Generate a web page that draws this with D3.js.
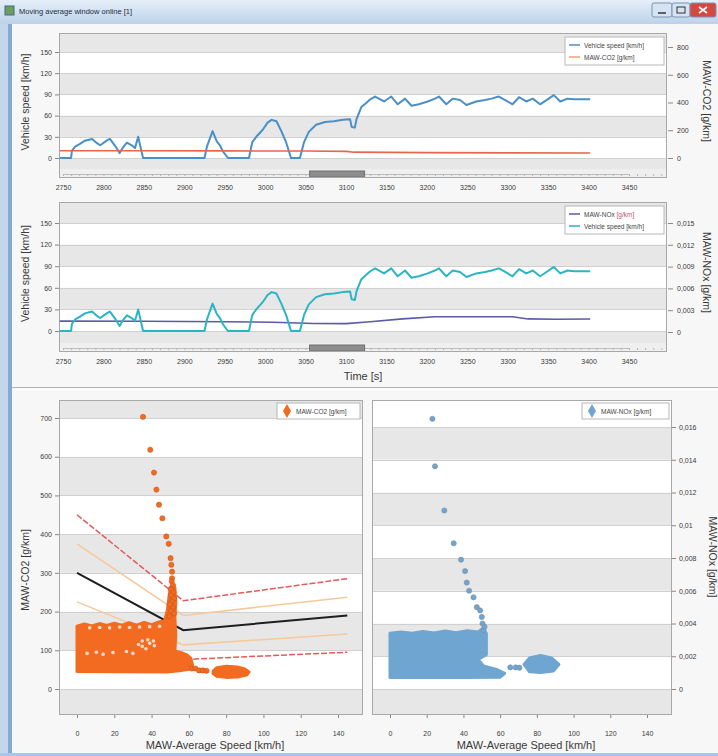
<!DOCTYPE html>
<html>
<head>
<meta charset="utf-8">
<script src="https://cdn.jsdelivr.net/npm/d3@7"></script>
<style>
  body { margin: 0; background: #fff; }
  svg { display: block; font-family: "Liberation Sans", Arial, sans-serif; }
</style>
</head>
<body>
<div id="chart"></div>
<script>
// ---- data ----
const timeTicks = [2750, 2800, 2850, 2900, 2950, 3000, 3050, 3100, 3150, 3200, 3250, 3300, 3350, 3400, 3450]
const speedTicks = [0, 30, 60, 90, 120, 150]
const co2TimeTicks = [0, 200, 400, 600, 800]
const noxTimeTicks = [0, 0.003, 0.006, 0.009, 0.012, 0.015]
const noxTimeLabels = ['0', '0,003', '0,006', '0,009', '0,012', '0,015']
const avgSpeedTicks = [0, 20, 40, 60, 80, 100, 120, 140]
const co2Ticks = [0, 100, 200, 300, 400, 500, 600, 700]
const noxTicks = [0, 0.002, 0.004, 0.006, 0.008, 0.01, 0.012, 0.014, 0.016]
const noxLabels = ['0', '0,002', '0,004', '0,006', '0,008', '0,01', '0,012', '0,014', '0,016']

// [time s, speed km/h]
const speedTrace = [
  [2746, 0], [2760, 0], [2761, 10], [2765, 16], [2771, 20], [2777, 24.5], [2786, 27], [2792, 21], [2796, 18],
  [2804, 24.5], [2808, 27], [2814, 18], [2820, 7], [2824, 14.6], [2829, 21.7], [2835, 18], [2839, 14],
  [2843, 30], [2845, 20], [2849, 0],
  [2925, 0], [2928, 16], [2935, 38], [2940, 24], [2944, 18], [2948, 9], [2954, 0],
  [2980, 0], [2984, 22], [2989, 30], [2997, 40], [3003, 50], [3008, 54], [3014, 52], [3020, 38], [3026, 22],
  [3032, 0], [3043, 0], [3048, 22], [3054, 37], [3063, 47], [3074, 51], [3085, 52], [3096, 54], [3105, 55],
  [3107, 44], [3111, 43], [3113, 55], [3119, 72], [3125, 78], [3130, 83],
  [3136, 87], [3147, 80], [3156, 87], [3164, 76], [3173, 84], [3181, 74], [3190, 76], [3201, 80], [3210, 84],
  [3215, 87], [3224, 76], [3232, 84], [3241, 82], [3249, 75], [3261, 80], [3272, 82], [3280, 84], [3289, 87],
  [3297, 82], [3306, 76], [3314, 86], [3323, 80], [3331, 84], [3340, 76], [3348, 82], [3357, 89], [3365, 80],
  [3374, 84], [3382, 83], [3391, 83], [3402, 83]
]
// [time s, MAW-CO2 g/km]
const co2Trace = [[2746, 52], [2850, 52], [2950, 51], [3050, 50], [3100, 48], [3110, 42], [3200, 39], [3300, 37], [3402, 36]]
// [time s, MAW-NOx g/km]
const noxTrace = [
  [2746, 0.0015], [2850, 0.00148], [2950, 0.00142], [3010, 0.00135], [3060, 0.00118], [3100, 0.00115],
  [3130, 0.0014], [3170, 0.0018], [3210, 0.0021], [3260, 0.0021], [3306, 0.0021], [3325, 0.0018],
  [3360, 0.00175], [3402, 0.00178]
]

// CO2 characteristic curve and tolerance lines [speed, g/km]
const co2Curve = [[0, 300], [57, 152], [145, 190]]
const co2Upper50 = [[0, 450], [57, 228], [145, 285]]
const co2Upper25 = [[0, 375], [57, 190], [145, 237]]
const co2Lower25 = [[0, 225], [57, 114], [145, 142]]
const co2Lower50 = [[0, 150], [57, 76], [145, 95]]

// dense point clouds as outlines [speed, value]
const co2Clouds = [
  [[0, 45], [0, 162], [4, 168], [8, 163], [12, 169], [16, 164], [20, 170], [24, 165], [28, 171], [32, 165],
   [36, 172], [40, 166], [44, 173], [47, 176], [48.5, 205], [49.5, 245], [50.5, 265], [52.5, 262], [53, 225],
   [52.5, 185], [53, 140], [52.5, 98], [56, 94], [59, 88], [61, 80], [62, 62], [60, 51], [55, 47], [48, 44]],
  [[73, 46], [75, 55], [80, 59], [86, 57], [90, 52], [92.3, 44], [91, 36], [86, 31], [80, 30], [75, 33], [73, 40]]
]
const co2Gaps = [
  [33, 115], [35, 124], [38, 127], [41, 124], [41.5, 112], [37, 104], [35, 110], [39, 118],
  [5.4, 92], [10.4, 95], [14, 90], [19.3, 94], [26.5, 97], [30, 92],
  [6.8, 158], [12.2, 159], [17.5, 158], [22.9, 160], [28.2, 159], [33.6, 160], [39, 161], [44.3, 162]
]
const co2Points = [
  [35.4, 703], [39.3, 618], [41.3, 559], [42.6, 515], [44, 476], [45.8, 441], [47.9, 394], [49.2, 375],
  [50.2, 338], [50.6, 321], [51, 303], [51, 286], [50.8, 278], [51.5, 268], [50.2, 258], [51.8, 250],
  [50.5, 242], [52, 234], [50.8, 226], [49.8, 218], [51.5, 210], [50.5, 202], [52, 195], [49.5, 188],
  [61.5, 53], [63.5, 53], [65.5, 48], [67.5, 48], [69.5, 47]
]

const noxClouds = [
  [[0, 0.0007], [0, 0.0034], [6, 0.00348], [12, 0.0034], [18, 0.00352], [24, 0.00342], [30, 0.00354],
   [36, 0.00344], [42, 0.00356], [48, 0.00348], [50.5, 0.0037], [52.5, 0.0034], [52.5, 0.0021], [48, 0.0018],
   [51, 0.0014], [58, 0.0012], [62.5, 0.00095], [60, 0.00072], [40, 0.0007]],
  [[73, 0.0015], [76, 0.0019], [82, 0.00205], [88, 0.0019], [92, 0.0015], [89, 0.0011], [82, 0.001], [76, 0.00105]]
]
const noxPoints = [
  [23.1, 0.0165], [24.5, 0.0136], [29.6, 0.0109], [34.7, 0.0089], [38.7, 0.0079], [40.9, 0.0072],
  [41.8, 0.0065], [43.1, 0.006], [45.5, 0.0056], [47.3, 0.005], [49.1, 0.0048], [50, 0.0044],
  [50.4, 0.004], [50.9, 0.0036], [51.5, 0.0038], [65.5, 0.00132], [68.5, 0.00132], [70.5, 0.0013]
]

// ---- drawing ----
const W = 718, H = 756
const svg = d3.select('#chart').append('svg').attr('width', W).attr('height', H)
const defs = svg.append('defs')

// window chrome
svg.append('rect').attr('width', W).attr('height', H).attr('fill', '#c3d7ec')
svg.append('rect').attr('x', 8).attr('y', 22).attr('width', 4).attr('height', 732).attr('fill', '#86a9d1')
svg.append('rect').attr('x', 12).attr('y', 24).attr('width', W - 12).attr('height', 730).attr('fill', '#f7f7f7')
const tbGrad = defs.append('linearGradient').attr('id', 'tb').attr('x1', 0).attr('y1', 0).attr('x2', 0).attr('y2', 1)
tbGrad.append('stop').attr('offset', 0).attr('stop-color', '#e6eff9')
tbGrad.append('stop').attr('offset', 1).attr('stop-color', '#bcd2ea')
svg.append('rect').attr('width', W).attr('height', 24).attr('fill', 'url(#tb)')
svg.append('rect').attr('x', 5).attr('y', 6).attr('width', 9).attr('height', 9).attr('fill', '#6d9e5a').attr('stroke', '#3f6a8f')
svg.append('text').attr('x', 19).attr('y', 14).attr('font-size', 7.5).attr('fill', '#1e2a38')
  .text('Moving average window online [1]')
const btns = [{ x: 652, w: 20, c: '#d5e3f2' }, { x: 672, w: 18, c: '#d5e3f2' }, { x: 690, w: 26, c: '#d3483f' }]
svg.selectAll('.btn').data(btns).join('rect').attr('class', 'btn')
  .attr('x', d => d.x).attr('y', 3).attr('width', d => d.w).attr('height', 14).attr('rx', 2)
  .attr('fill', d => d.c).attr('stroke', '#7a93b3')
svg.append('line').attr('x1', 658).attr('x2', 666).attr('y1', 13).attr('y2', 13).attr('stroke', '#333').attr('stroke-width', 1.5)
svg.append('rect').attr('x', 677).attr('y', 7).attr('width', 8).attr('height', 6).attr('fill', 'none').attr('stroke', '#333')
svg.append('path').attr('d', 'M699,7L707,13M707,7L699,13').attr('stroke', '#fff').attr('stroke-width', 1.6)

// splitter between the time plots and the scatter plots
svg.append('line').attr('x1', 12).attr('x2', W).attr('y1', 387.5).attr('y2', 387.5).attr('stroke', '#b4b4b4')
svg.append('line').attr('x1', 12).attr('x2', W).attr('y1', 389.5).attr('y2', 389.5).attr('stroke', '#ffffff')
svg.append('rect').attr('x', 0).attr('y', 753).attr('width', W).attr('height', 3).attr('fill', '#a9c6e6')

function drawBands(g, y, ticks, x0, x1, top, bottom) {
  const edges = [bottom].concat(ticks.map(y)).concat([top])
  for (let i = 0; i < edges.length - 1; i++) {
    g.append('rect')
      .attr('x', x0).attr('width', x1 - x0)
      .attr('y', edges[i + 1]).attr('height', edges[i] - edges[i + 1])
      .attr('fill', i % 2 === 0 ? '#e7e7e7' : '#ffffff')
  }
  g.selectAll(null).data(ticks).join('line')
    .attr('x1', x0).attr('x2', x1)
    .attr('y1', d => Math.round(y(d)) + 0.5).attr('y2', d => Math.round(y(d)) + 0.5)
    .attr('stroke', '#d0d0d0')
}

function styleAxis(a, size) {
  a.select('.domain').remove()
  a.selectAll('line').attr('stroke', '#888')
  a.selectAll('text').attr('font-size', size || 7).attr('fill', '#3a3a3a').attr('font-family', null)
}

function legend(g, x, y, w, items) {
  const h = items.length * 12 + 4
  g.append('rect').attr('x', x).attr('y', y).attr('width', w).attr('height', h)
    .attr('fill', '#fff').attr('stroke', '#b8b8b8')
  items.forEach((it, i) => {
    const cy = y + 8 + i * 12
    if (it.line) {
      g.append('line').attr('x1', x + 4).attr('x2', x + 15).attr('y1', cy).attr('y2', cy)
        .attr('stroke', it.color).attr('stroke-width', 1.5)
    } else {
      g.append('path').attr('d', d3.symbol(d3.symbolDiamond, 55)())
        .attr('transform', `translate(${x + 10},${cy})`).attr('fill', it.color)
    }
    const t = g.append('text').attr('x', x + 19).attr('y', cy + 2.5).attr('font-size', 6.5).attr('fill', '#444')
    t.append('tspan').text(it.name)
    t.append('tspan').attr('fill', it.unitColor || '#444').text(it.unit)
  })
}

function vTitle(x, y, text, angle) {
  svg.append('text').attr('transform', `translate(${x},${y}) rotate(${angle})`)
    .attr('text-anchor', 'middle').attr('font-size', 10.5).attr('fill', '#3a3a3a').text(text)
}

// ---- time series panels ----
function drawTimePanel(p) {
  const g = svg.append('g')
  const x = d3.scaleLinear().domain([2750, 3450]).range([63, 629])
  const yL = d3.scaleLinear().domain([0, 150]).range(p.yLeft)
  const yR = d3.scaleLinear().domain(p.rightDomain).range(p.yRight)

  g.append('rect').attr('x', p.left).attr('y', p.top).attr('width', p.right - p.left)
    .attr('height', p.strip - p.top).attr('fill', '#efefef')
  drawBands(g, yL, speedTicks, p.left, p.right, p.top, p.bands)

  // scroll ruler under the plot
  const ruler = g.append('g').attr('transform', `translate(0,${p.bands + 5})`)
    .call(d3.axisBottom(x).tickValues(d3.range(2750, 3500, 10)).tickSize(2).tickFormat(''))
  ruler.select('.domain').attr('stroke', '#bdbdbd')
  ruler.selectAll('line').attr('stroke', '#b5b5b5')
  g.append('rect').attr('x', x(3055)).attr('y', p.bands + 2).attr('width', x(3123) - x(3055)).attr('height', 6)
    .attr('fill', '#8d8d8d').attr('stroke', '#6f6f6f')
  g.append('rect').attr('x', p.left + 0.5).attr('y', p.top + 0.5).attr('width', p.right - p.left - 1)
    .attr('height', p.strip - p.top - 1).attr('fill', 'none').attr('stroke', '#a8a8a8')

  const line = (sx, sy) => d3.line().x(d => sx(d[0])).y(d => sy(d[1]))
  p.series.forEach(s => {
    g.append('path').datum(s.data).attr('d', line(x, s.right ? yR : yL)(s.data))
      .attr('fill', 'none').attr('stroke', s.color).attr('stroke-width', s.width)
      .attr('stroke-linejoin', 'round')
  })

  const ax = g.append('g').attr('transform', `translate(0,${p.strip})`)
    .call(d3.axisBottom(x).tickValues(timeTicks).tickSize(0).tickPadding(7).tickFormat(d3.format('d')))
  styleAxis(ax)
  const al = g.append('g').attr('transform', `translate(${p.left},0)`)
    .call(d3.axisLeft(yL).tickValues(speedTicks).tickSize(4).tickPadding(3))
  styleAxis(al)
  const ar = g.append('g').attr('transform', `translate(${p.right + 1},0)`)
    .call(d3.axisRight(yR).tickValues(p.rightTicks).tickSize(5).tickPadding(4).tickFormat((d, i) => p.rightLabels[i]))
  styleAxis(ar)

  legend(g, 565, p.top + 4, 99, p.legend)
  vTitle(29, (p.top + p.bands) / 2 + 1, 'Vehicle speed [km/h]', -90)
  vTitle(703, (p.top + p.bands) / 2, p.rightTitle, 90)
}

drawTimePanel({
  left: 59, right: 667, top: 33, bands: 169, strip: 178,
  yLeft: [158, 52], rightDomain: [0, 800], yRight: [158, 47],
  rightTicks: co2TimeTicks, rightLabels: co2TimeTicks.map(String), rightTitle: 'MAW-CO2 [g/km]',
  series: [
    { data: speedTrace, color: '#4a8fc7', width: 2 },
    { data: co2Trace, color: '#e8664f', width: 1.6, right: true }
  ],
  legend: [
    { name: 'Vehicle speed ', unit: '[km/h]', color: '#4a8fc7', line: true },
    { name: 'MAW-CO2 ', unit: '[g/km]', color: '#f0a070', line: true }
  ]
})

drawTimePanel({
  left: 59, right: 667, top: 202, bands: 343, strip: 352,
  yLeft: [331, 223], rightDomain: [0, 0.015], yRight: [332, 223],
  rightTicks: noxTimeTicks, rightLabels: noxTimeLabels, rightTitle: 'MAW-NOx [g/km]',
  series: [
    { data: noxTrace, color: '#5b5ba6', width: 1.6, right: true },
    { data: speedTrace, color: '#2bb5c3', width: 2 }
  ],
  legend: [
    { name: 'MAW-NOx ', unit: '[g/km]', unitColor: '#c0506a', color: '#5b5ba6', line: true },
    { name: 'Vehicle speed ', unit: '[km/h]', color: '#2bb5c3', line: true }
  ]
})
svg.append('text').attr('x', 363).attr('y', 380).attr('text-anchor', 'middle')
  .attr('font-size', 11).attr('fill', '#3a3a3a').text('Time [s]')

// ---- scatter panels ----
function drawScatterPanel(p) {
  const g = svg.append('g')
  const x = d3.scaleLinear().domain([0, 140]).range(p.xRange)
  const y = d3.scaleLinear().domain(p.yDomain).range(p.yRange)

  g.append('rect').attr('x', p.left).attr('y', p.top).attr('width', p.right - p.left)
    .attr('height', p.bottom - p.top).attr('fill', '#fff')
  drawBands(g, y, p.ticks, p.left, p.right, p.top, p.bottom)

  defs.append('clipPath').attr('id', p.id).append('rect')
    .attr('x', p.left).attr('y', p.top).attr('width', p.right - p.left).attr('height', p.bottom - p.top)
  const plot = g.append('g').attr('clip-path', `url(#${p.id})`)
  const line = d3.line().x(d => x(d[0])).y(d => y(d[1]))

  ;(p.lines || []).forEach(l => {
    plot.append('path').attr('d', line(l.data)).attr('fill', 'none')
      .attr('stroke', l.color).attr('stroke-width', l.width).attr('stroke-dasharray', l.dash || null)
  })
  plot.selectAll('.cloud').data(p.clouds).join('path').attr('class', 'cloud')
    .attr('d', d => line.curve(d3.curveLinearClosed)(d)).attr('fill', p.color)
    .attr('stroke', p.color).attr('stroke-width', 3).attr('stroke-linejoin', 'round')
  line.curve(d3.curveLinear)
  plot.selectAll('.gap').data(p.gaps || []).join('circle').attr('class', 'gap')
    .attr('cx', d => x(d[0])).attr('cy', d => y(d[1])).attr('r', 1.8).attr('fill', '#fff').attr('opacity', 0.75)
  plot.selectAll('.pt').data(p.points).join('circle').attr('class', 'pt')
    .attr('cx', d => x(d[0])).attr('cy', d => y(d[1])).attr('r', 2.6)
    .attr('fill', p.color).attr('stroke', p.pointEdge).attr('stroke-width', 0.6)

  g.append('rect').attr('x', p.left + 0.5).attr('y', p.top + 0.5).attr('width', p.right - p.left - 1)
    .attr('height', p.bottom - p.top - 1).attr('fill', 'none').attr('stroke', '#a8a8a8')

  const ax = g.append('g').attr('transform', `translate(0,${p.bottom})`)
    .call(d3.axisBottom(x).tickValues(avgSpeedTicks).tickSize(3).tickPadding(13))
  styleAxis(ax)
  let ay
  if (p.axisRight) {
    ay = g.append('g').attr('transform', `translate(${p.right},0)`)
      .call(d3.axisRight(y).tickValues(p.ticks).tickSize(4).tickPadding(3).tickFormat((d, i) => p.labels[i]))
  } else {
    ay = g.append('g').attr('transform', `translate(${p.left},0)`)
      .call(d3.axisLeft(y).tickValues(p.ticks).tickSize(4).tickPadding(3).tickFormat((d, i) => p.labels[i]))
  }
  styleAxis(ay)

  legend(g, p.legendX, p.top + 3, p.right - p.legendX - 3, [{ name: p.name + ' ', unit: '[g/km]', color: p.color }])
  svg.append('text').attr('x', (p.left + p.right) / 2 + 4).attr('y', 749).attr('text-anchor', 'middle')
    .attr('font-size', 11).attr('fill', '#3a3a3a').text('MAW-Average Speed [km/h]')
  vTitle(p.titleX, p.titleY, p.name + ' [g/km]', p.axisRight ? 90 : -90)
}

drawScatterPanel({
  id: 'clipCo2', left: 59, right: 363, top: 400, bottom: 715,
  xRange: [77, 338], yDomain: [0, 700], yRange: [689, 418],
  ticks: co2Ticks, labels: co2Ticks.map(String),
  color: '#f36b21', pointEdge: '#c9551a',
  clouds: co2Clouds, gaps: co2Gaps, points: co2Points,
  lines: [
    { data: co2Upper50, color: '#e4595a', width: 1.5, dash: '6,2' },
    { data: co2Lower50, color: '#e4595a', width: 1.5, dash: '6,2' },
    { data: co2Upper25, color: '#f7c89a', width: 1.5 },
    { data: co2Lower25, color: '#f7c89a', width: 1.5 },
    { data: co2Curve, color: '#1e1e1e', width: 2 }
  ],
  name: 'MAW-CO2', legendX: 277, titleX: 29, titleY: 570
})

drawScatterPanel({
  id: 'clipNox', left: 372, right: 672, top: 400, bottom: 715,
  xRange: [390, 647], yDomain: [0, 0.016], yRange: [689, 427],
  ticks: noxTicks, labels: noxLabels, axisRight: true,
  color: '#6ea6d1', pointEdge: '#7d8fa0',
  clouds: noxClouds, gaps: [], points: noxPoints,
  name: 'MAW-NOx', legendX: 582, titleX: 709, titleY: 557
})
</script>
</body>
</html>
